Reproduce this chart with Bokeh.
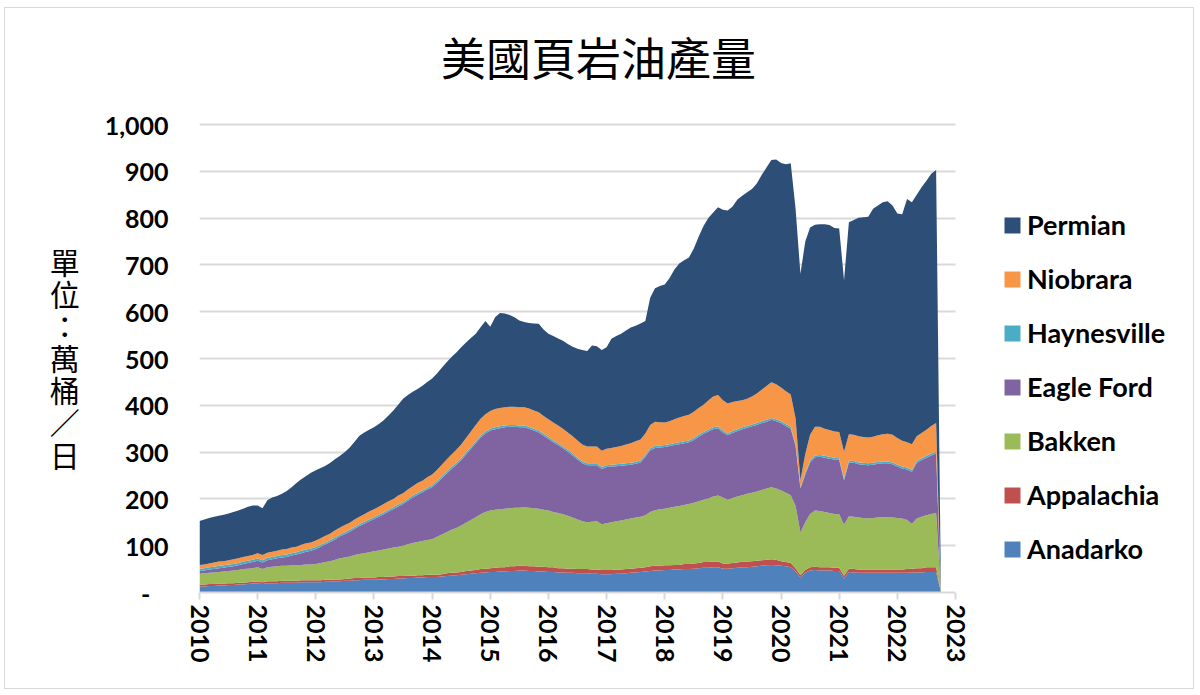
import pandas as pd
from bokeh.plotting import figure
from bokeh.models import (ColumnDataSource, Legend, LegendItem, FixedTicker,
                          Range1d, NumeralTickFormatter, Label, BoxAnnotation)
from bokeh.embed import file_html
from bokeh.resources import INLINE

# ---------------- data (萬桶/日), monthly Jan 2010 .. Oct 2022 ----------------
months = pd.date_range("2010-01-01", "2022-10-01", freq="MS")

anadarko = [
    13, 13, 14, 14, 15, 15, 16, 16, 17, 17, 18, 19,
    19, 18, 20, 20, 20, 21, 21, 21, 21, 22, 22, 22,
    22, 22, 23, 23, 24, 24, 25, 25, 26, 26, 27, 27,
    27, 28, 28, 29, 29, 30, 30, 31, 31, 32, 32, 33,
    33, 33, 34, 35, 36, 37, 38, 39, 40, 41, 42, 43,
    44, 44, 45, 45, 46, 46, 47, 47, 46, 46, 45, 45,
    44, 44, 43, 43, 42, 42, 41, 41, 41, 40, 40, 39,
    39, 39, 40, 40, 41, 42, 43, 44, 45, 46, 47, 47,
    48, 48, 49, 49, 50, 50, 51, 52, 53, 53, 54, 54,
    51, 51, 52, 53, 54, 54, 55, 56, 57, 58, 59, 58,
    57, 56, 54, 45, 32, 42, 47, 48, 47, 47, 47, 46,
    46, 30, 44, 43, 42, 42, 42, 42, 42, 42, 42, 42,
    42, 42, 42, 43, 43, 43, 44, 44, 44, 0,
]
appalachia = [
    4, 4, 4, 4, 4, 4, 4, 4, 4, 4, 4, 4,
    4, 4, 4, 4, 4, 4, 4, 4, 4, 4, 4, 4,
    4, 4, 4, 4, 4, 4, 4, 5, 5, 5, 5, 5,
    5, 5, 5, 5, 5, 5, 5, 5, 5, 5, 5, 5,
    5, 5, 5, 6, 6, 6, 6, 7, 7, 7, 8, 8,
    8, 9, 9, 9, 10, 10, 10, 10, 10, 10, 10, 10,
    10, 10, 9, 9, 9, 9, 9, 9, 9, 9, 9, 9,
    9, 9, 9, 9, 9, 9, 9, 9, 9, 10, 10, 10,
    10, 10, 10, 10, 11, 11, 11, 11, 12, 12, 12, 12,
    11, 11, 11, 11, 12, 12, 12, 12, 12, 12, 12, 12,
    10, 9, 9, 7, 5, 6, 7, 7, 7, 7, 7, 7,
    7, 6, 7, 7, 7, 7, 7, 7, 7, 7, 7, 7,
    7, 7, 8, 8, 9, 9, 10, 10, 10, 0,
]
bakken = [
    23, 24, 24, 25, 25, 26, 26, 27, 27, 29, 29, 29,
    31, 28, 30, 31, 32, 32, 32, 33, 33, 33, 34, 34,
    35, 37, 38, 40, 42, 45, 46, 47, 49, 51, 52, 54,
    56, 57, 59, 60, 62, 63, 65, 67, 70, 71, 73, 74,
    76, 81, 85, 88, 92, 95, 99, 103, 108, 113, 117, 121,
    123, 124, 124, 125, 124, 125, 124, 125, 125, 124, 124, 122,
    121, 118, 118, 115, 113, 109, 106, 102, 100, 102, 103, 98,
    100, 102, 103, 105, 106, 107, 108, 109, 111, 116, 119, 121,
    121, 123, 124, 126, 126, 128, 130, 132, 133, 136, 139, 141,
    141, 136, 139, 141, 142, 145, 146, 148, 150, 152, 154, 152,
    151, 148, 145, 133, 91, 102, 114, 120, 120, 118, 116, 115,
    114, 109, 112, 112, 111, 110, 109, 110, 111, 112, 112, 111,
    110, 109, 105, 96, 106, 110, 111, 114, 116, 0,
]
eagle_ford = [
    6, 6, 7, 7, 8, 8, 9, 9, 10, 11, 12, 13,
    14, 14, 15, 16, 17, 18, 19, 21, 23, 25, 27, 29,
    32, 35, 38, 41, 44, 47, 50, 53, 56, 60, 63, 66,
    69, 72, 75, 79, 82, 86, 89, 93, 97, 101, 104, 108,
    111, 115, 120, 125, 130, 135, 140, 146, 152, 158, 164, 168,
    171, 172, 173, 174, 174, 173, 172, 171, 169, 166, 163, 158,
    153, 149, 145, 141, 137, 133, 128, 124, 122, 121, 120, 118,
    120, 119, 118, 117, 116, 115, 115, 116, 125, 132, 133, 132,
    132, 132, 132, 132, 132, 132, 134, 138, 141, 143, 144, 144,
    139, 138, 139, 140, 141, 141, 142, 142, 143, 143, 144, 144,
    144, 143, 142, 128, 94, 102, 110, 114, 116, 116, 116, 116,
    116, 95, 115, 115, 114, 114, 114, 114, 115, 115, 115, 114,
    110, 107, 108, 111, 119, 121, 123, 125, 127, 0,
]
haynesville = [
    5, 5, 5, 5, 5, 5, 5, 5, 5, 5, 5, 5,
    5, 5, 5, 5, 5, 5, 5, 5, 5, 5, 5, 5,
    4, 4, 4, 4, 4, 4, 4, 4, 4, 4, 4, 4,
    4, 4, 4, 4, 4, 4, 4, 4, 4, 4, 4, 4,
    4, 4, 4, 4, 4, 4, 4, 4, 4, 4, 4, 4,
    4, 4, 4, 4, 4, 4, 4, 4, 4, 4, 4, 4,
    4, 4, 4, 4, 4, 4, 4, 4, 4, 4, 4, 4,
    4, 4, 4, 4, 4, 4, 4, 4, 4, 4, 4, 4,
    4, 4, 4, 4, 4, 4, 4, 4, 4, 4, 4, 4,
    4, 4, 4, 4, 4, 4, 4, 4, 4, 4, 4, 4,
    4, 4, 4, 4, 3, 4, 4, 4, 4, 4, 4, 4,
    4, 4, 4, 4, 4, 4, 4, 4, 4, 4, 4, 4,
    4, 4, 4, 4, 4, 4, 4, 4, 4, 0,
]
niobrara = [
    8, 8, 8, 9, 9, 9, 9, 10, 10, 10, 10, 10,
    11, 11, 11, 11, 11, 12, 12, 12, 12, 13, 13, 13,
    14, 14, 14, 14, 15, 15, 15, 15, 16, 16, 16, 17,
    17, 17, 18, 18, 18, 19, 19, 20, 20, 21, 21, 22,
    23, 24, 25, 26, 27, 28, 29, 31, 33, 35, 36, 37,
    38, 39, 39, 39, 39, 39, 39, 39, 39, 39, 39, 38,
    38, 38, 38, 38, 37, 37, 37, 36, 36, 36, 36, 35,
    35, 36, 37, 38, 40, 42, 44, 45, 46, 50, 52, 50,
    48, 49, 51, 53, 54, 55, 56, 57, 58, 62, 66, 67,
    65, 64, 62, 60, 58, 58, 60, 63, 67, 72, 76, 75,
    72, 70, 69, 55, 15, 40, 55, 61, 60, 58, 57, 56,
    56, 57, 56, 56, 56, 55, 55, 56, 57, 58, 59, 59,
    57, 55, 54, 55, 53, 54, 56, 59, 61, 0,
]
permian = [
    94, 96, 97, 98, 98, 99, 100, 101, 102, 103, 105, 106,
    102, 100, 112, 116, 117, 119, 124, 129, 136, 140, 144, 149,
    150, 150, 150, 151, 152, 153, 156, 161, 166, 173, 175, 175,
    175, 177, 179, 183, 189, 194, 202, 202, 202, 201, 203, 204,
    205, 206, 207, 208, 208, 208, 208, 204, 200, 195, 196, 199,
    180, 196, 203, 200, 196, 191, 185, 182, 183, 186, 189, 185,
    183, 185, 186, 188, 189, 191, 196, 202, 204, 216, 214, 215,
    217, 233, 237, 240, 244, 247, 247, 248, 240, 272, 285, 291,
    295, 306, 320, 329, 333, 336, 349, 366, 382, 390, 393, 401,
    407, 412, 418, 431, 437, 441, 443, 449, 459, 467, 475, 480,
    480, 485, 494, 448, 441, 454, 443, 432, 433, 437, 438, 435,
    435, 366, 453, 459, 467, 470, 472, 487, 491, 496, 497, 490,
    480, 484, 520, 517, 516, 525, 532, 539, 541, 0,
]

series_keys = ["anadarko", "appalachia", "bakken", "eagle_ford",
               "haynesville", "niobrara", "permian"]
series_labels = ["Anadarko", "Appalachia", "Bakken", "Eagle Ford",
                 "Haynesville", "Niobrara", "Permian"]
series_colors = ["#4f81bd", "#c0504d", "#9bbb59", "#8064a2",
                 "#4bacc6", "#f79646", "#2d4f77"]
year_ticks = list(range(2010, 2024))
value_ticks = list(range(0, 1001, 100))

title_text = "美國頁岩油產量"
# three blank (ideographic-space) lines above push the stacked label down
unit_text = "\u3000\n\u3000\n\u3000\n單\n位\n：\n萬\n桶\n／\n日"

# ---------------- layout constants (pixels) ----------------
FIG_W, FIG_H = 1190, 682
LEFT, BOTTOM, TOP = 194, 98, 17         # frame offsets inside the figure
AXIS_W, AXIS_H = 756, 468              # pixel length of 2010-2023 / 0-1000
frame_w, frame_h = FIG_W - LEFT, FIG_H - BOTTOM - TOP
x_lo, x_hi = year_ticks[0], year_ticks[-1]
y_lo, y_hi = value_ticks[0], value_ticks[-1]
x_end = x_lo + (x_hi - x_lo) * frame_w / AXIS_W
y_end = y_lo + (y_hi - y_lo) * frame_h / AXIS_H

source = ColumnDataSource(dict(
    x=list(months.year + (months.month - 1) / 12.0),
    anadarko=anadarko, appalachia=appalachia, bakken=bakken,
    eagle_ford=eagle_ford, haynesville=haynesville,
    niobrara=niobrara, permian=permian,
))

p = figure(width=FIG_W, height=FIG_H, output_backend="svg",
           toolbar_location=None, title=None,
           x_range=Range1d(x_lo, x_end), y_range=Range1d(y_lo, y_end),
           min_border_left=LEFT, min_border_right=0,
           min_border_top=TOP, min_border_bottom=BOTTOM)
p.styles = {"margin-left": "4px", "margin-top": "7px",
            "border": "1px solid #d9d9d9"}
p.outline_line_color = None
p.background_fill_color = "white"
p.border_fill_color = "white"

renderers = p.varea_stack(stackers=series_keys, x="x", color=series_colors,
                          source=source)

# axes
p.xaxis.ticker = FixedTicker(ticks=year_ticks)
p.xaxis.bounds = (x_lo, x_hi)
p.xaxis.major_label_orientation = "vertical"
p.xaxis.axis_line_color = "#d9d9d9"
p.xaxis.axis_line_width = 2
p.xaxis.major_tick_line_color = "#d9d9d9"
p.xaxis.major_tick_line_width = 2
p.xaxis.major_tick_out = 7
p.xaxis.major_tick_in = 0
p.xaxis.minor_tick_line_color = None
p.xaxis.major_label_standoff = 5

p.yaxis.ticker = FixedTicker(ticks=value_ticks)
p.yaxis.bounds = (y_lo, y_hi)
p.yaxis.formatter = NumeralTickFormatter(format="0,0")
p.yaxis.major_label_overrides = {0: "-\u00a0\u00a0\u00a0"}
p.yaxis.axis_line_color = None
p.yaxis.major_tick_line_color = None
p.yaxis.minor_tick_line_color = None
p.yaxis.major_tick_out = 0
p.yaxis.major_label_standoff = 31
p.yaxis.axis_label = unit_text
p.yaxis.axis_label_orientation = "horizontal"
p.yaxis.axis_label_text_font = "Noto Sans CJK TC"
p.yaxis.axis_label_text_font_size = "30px"
p.yaxis.axis_label_text_font_style = "normal"
p.yaxis.axis_label_text_color = "black"
p.yaxis.axis_label_text_line_height = 0.73
p.yaxis.axis_label_standoff = 22

for ax in (p.xaxis[0], p.yaxis[0]):
    ax.major_label_text_font = "Lato"
    ax.major_label_text_font_style = "bold"
    ax.major_label_text_font_size = "25px"
    ax.major_label_text_color = "black"

p.xgrid.visible = False
p.ygrid.grid_line_color = "#d9d9d9"
p.ygrid.grid_line_width = 2

# keep the grid lines within 2010-2023 (legend area stays blank)
p.add_layout(BoxAnnotation(left=x_hi, fill_color="white", fill_alpha=1.0,
                           line_color=None))

# title (screen units relative to the frame's lower-left corner)
p.add_layout(Label(x=399, y=536, x_units="screen", y_units="screen",
                   text=title_text, text_font="Noto Sans CJK TC",
                   text_font_size="45px", text_align="center",
                   text_baseline="middle", text_color="black"))

# legend
items = [LegendItem(label=lab, renderers=[r])
         for lab, r in zip(series_labels, renderers)][::-1]
legend = Legend(items=items, location=(803, 27))
legend.label_text_font = "Lato"
legend.label_text_font_style = "bold"
legend.label_text_font_size = "27px"
legend.label_text_color = "black"
legend.glyph_width = 20
legend.glyph_height = 20
legend.label_height = 20
legend.spacing = 21
legend.padding = 0
legend.margin = 0
legend.label_standoff = 5
legend.border_line_color = None
legend.background_fill_alpha = 0
p.add_layout(legend)

open("out.html", "w").write(file_html(p, INLINE))
